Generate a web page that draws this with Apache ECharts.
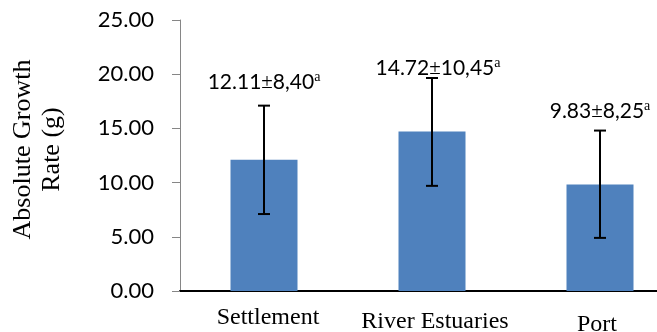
<!DOCTYPE html>
<html>
<head>
<meta charset="utf-8">
<script src="https://cdn.jsdelivr.net/npm/echarts@6/dist/echarts.min.js"></script>
<style>html,body{margin:0;padding:0;background:#fff}#c{width:657px;height:332px}</style>
</head>
<body>
<div id="c"></div>
<script>
// ---- data ----
var categories = ['Settlement', 'River Estuaries', 'Port'];
var means = [12.11, 14.72, 9.83];
var sdText = ['8,40', '10,45', '8,25'];
var letters = ['a', 'a', 'a'];
var errLow = [7.1, 9.7, 4.9];
var errHigh = [17.1, 19.65, 14.8];
var yTicks = [0, 5, 10, 15, 20, 25];

// ---- styling (px offsets of the annotation text relative to error-bar tops) ----
var labelDx = [0, 6, 0];
var labelDy = [-23, -10, -19];
var catPad = [0, 4, 7];

var chart = echarts.init(document.getElementById('c'), null, {renderer: 'canvas'});

var errData = categories.map(function (c, i) { return [i, errLow[i], errHigh[i]]; });

var option = {
  animation: false,
  backgroundColor: '#fff',
  grid: {left: 180, width: 504, top: 20, height: 271, containLabel: false, outerBoundsMode: 'none'},
  xAxis: {
    type: 'category',
    data: categories,
    axisTick: {show: false},
    axisLine: {lineStyle: {color: '#000', width: 2}},
    axisLabel: {
      margin: 15,
      interval: 0,
      formatter: function (v, i) { return '{c' + i + '|' + v + '}'; },
      rich: {
        c0: {fontFamily: 'Liberation Serif', fontSize: 24, color: '#000', padding: [catPad[0], 0, 0, 8]},
        c1: {fontFamily: 'Liberation Serif', fontSize: 24, color: '#000', padding: [catPad[1], 0, 0, 6]},
        c2: {fontFamily: 'Liberation Serif', fontSize: 24, color: '#000', padding: [catPad[2], 6, 0, 0]}
      }
    }
  },
  yAxis: {
    type: 'value',
    min: yTicks[0],
    max: yTicks[yTicks.length - 1],
    interval: yTicks[1] - yTicks[0],
    name: 'Absolute Growth\nRate (g)',
    nameLocation: 'middle',
    nameRotate: 90,
    nameGap: 113,
    nameTextStyle: {fontFamily: 'Liberation Serif', fontSize: 26, lineHeight: 29, color: '#000', padding: [0, 0, 0, 12]},
    axisLine: {show: true, lineStyle: {color: '#868686', width: 1}},
    axisTick: {show: true, length: 8, lineStyle: {color: '#868686'}},
    splitLine: {show: false},
    axisLabel: {
      margin: 26,
      fontFamily: 'Lato',
      fontSize: 22,
      color: '#000',
      formatter: function (v) { return v.toFixed(2); }
    }
  },
  series: [
    {
      type: 'bar',
      data: means,
      barWidth: 67,
      itemStyle: {color: '#4F81BD'},
      z: 2
    },
    {
      type: 'custom',
      z: 5,
      data: errData,
      renderItem: function (params, api) {
        var i = api.value(0);
        var lo = api.coord([i, api.value(1)]);
        var hi = api.coord([i, api.value(2)]);
        var hw = 6;
        var ls = {stroke: '#000', lineWidth: 2};
        return {
          type: 'group',
          children: [
            {type: 'line', shape: {x1: hi[0], y1: hi[1], x2: lo[0], y2: lo[1]}, style: ls},
            {type: 'line', shape: {x1: hi[0] - hw, y1: hi[1], x2: hi[0] + hw, y2: hi[1]}, style: ls},
            {type: 'line', shape: {x1: lo[0] - hw, y1: lo[1], x2: lo[0] + hw, y2: lo[1]}, style: ls},
            {
              type: 'text',
              x: hi[0] + labelDx[i],
              y: hi[1] + labelDy[i],
              style: {
                text: '{n|' + means[i].toFixed(2) + '}{pm|±}{n|' + sdText[i] + '}{sup|' + letters[i] + '}',
                align: 'center',
                verticalAlign: 'middle',
                rich: {
                  n: {fontFamily: 'Lato', fontSize: 21, color: '#000', lineHeight: 24},
                  pm: {fontFamily: 'Liberation Serif', fontSize: 21, color: '#444', lineHeight: 24},
                  sup: {fontFamily: 'Liberation Serif', fontSize: 14, color: '#000', verticalAlign: 'top', lineHeight: 24, padding: [0, 0, 8, 0]}
                }
              }
            }
          ]
        };
      }
    }
  ]
};
chart.setOption(option);
</script>
</body>
</html>
